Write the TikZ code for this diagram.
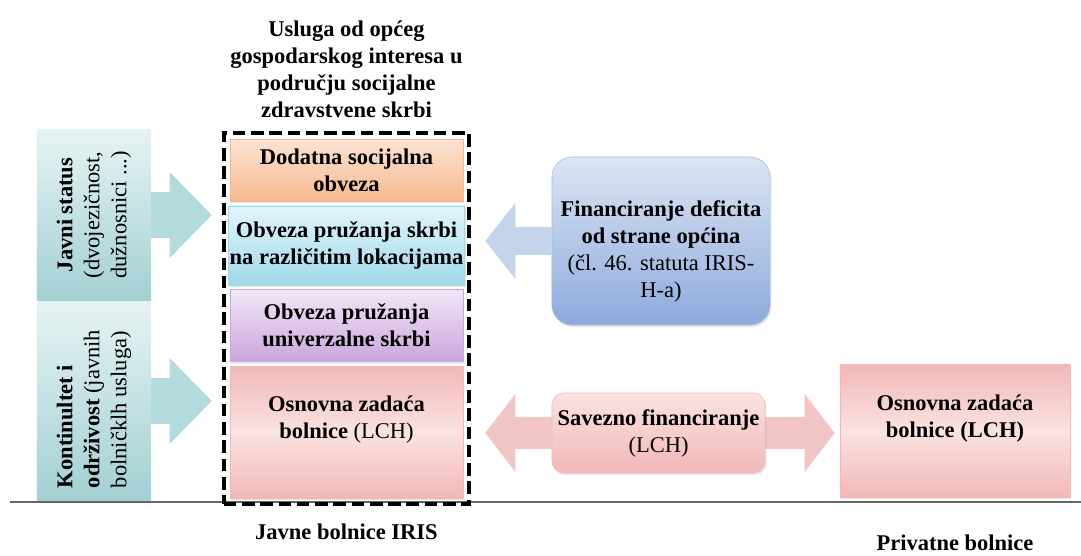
\documentclass[tikz,border=0pt]{standalone}
\usepackage{fontspec}
\setmainfont{Liberation Serif}
\usepackage{tikz}
\usetikzlibrary{positioning,arrows.meta,fit,shadows}
\definecolor{h_teal}{HTML}{A3D0D3}
\definecolor{h_tealtop}{HTML}{E6F3F4}
\definecolor{h_tealarrow}{HTML}{B3DADC}
\definecolor{h_orange}{HTML}{F5B990}
\definecolor{h_orangetop}{HTML}{FCE3D4}
\definecolor{h_cyan}{HTML}{A0D9EA}
\definecolor{h_cyantop}{HTML}{E2F5FA}
\definecolor{h_purple}{HTML}{CBA5DD}
\definecolor{h_purpletop}{HTML}{F1E8F7}
\definecolor{h_red}{HTML}{F2B8B8}
\definecolor{h_redmid}{HTML}{FBE2E2}
\definecolor{h_blue}{HTML}{8EAADB}
\definecolor{h_bluetop}{HTML}{DCE5F4}
\definecolor{h_bluearrow}{HTML}{C6D5EE}
\definecolor{h_pinkarrow}{HTML}{F2C6C6}

\begin{document}
\begin{tikzpicture}[
    x=0.025cm, y=-0.025cm,
    every node/.style={font=\fontsize{16}{19.2}\selectfont, align=center, inner sep=1pt},
    box text/.style={font=\fontsize{16}{19.2}\selectfont\bfseries},
    box/.style={rectangle, inner sep=1pt, box text,
        drop shadow={opacity=0.2, shadow xshift=1pt, shadow yshift=-1.5pt}},
    duty/.style={box, minimum width=5.825cm},
    status/.style={rectangle, minimum width=2.85cm, top color=h_tealtop, bottom color=h_teal},
    frame/.style={draw=black, line width=2.8pt, dash pattern=on 9pt off 4pt, inner sep=0.15cm},
    teal arrow/.style={draw=h_tealarrow, line width=1.125cm, shorten >=0.25cm,
        -{Triangle[length=1.05cm, width=2.15cm, line width=0pt]}},
    blue arrow/.style={draw=h_bluearrow, line width=0.7cm, shorten >=0.35cm,
        -{Triangle[length=0.75cm, width=1.9cm, line width=0pt]}},
    pink arrow/.style={draw=h_pinkarrow, line width=0.8cm, shorten <=0.35cm, shorten >=0.125cm,
        {Triangle[length=0.75cm, width=1.95cm, line width=0pt]}-{Triangle[length=0.75cm, width=1.95cm, line width=0pt]}},
    ground/.style={draw=black!60, line width=0.05cm}
]
    \useasboundingbox (0,0) rectangle (1081,556);
    \coordinate (g1) at (10,502);
    \coordinate (g2) at (1081,502);
    \draw[ground] (g1) -- (g2);

    \node[duty, anchor=north, minimum height=1.55cm, draw=h_orange, top color=h_orangetop, bottom color=h_orange]
        (dodatna) at (346.5,139) {Dodatna socijalna\\obveza};
    \node[duty, below=0.1cm of dodatna, minimum height=1.975cm, draw=h_cyan, top color=h_cyantop, bottom color=h_cyan]
        (lokacije) {Obveza pružanja skrbi\\na različitim lokacijama};
    \node[duty, below=0.1cm of lokacije, minimum height=1.8cm, draw=h_purple, top color=h_purpletop, bottom color=h_purple]
        (univerzalna) {Obveza pružanja\\univerzalne skrbi};
    \node[duty, below=0.1cm of univerzalna, minimum height=3.3cm, draw=h_red, top color=h_red, bottom color=h_red, middle color=h_redmid,
        label={[box text, yshift=0.32cm]center:{Osnovna zadaća\\bolnice {\mdseries (LCH)}}}]
        (osnovna) {};
    \node[frame, fit=(dodatna)(osnovna)] (frame) {};
    \node[box text, above=0.3cm of frame] (usluga)
        {Usluga od općeg\\gospodarskog interesa u\\području socijalne\\zdravstvene skrbi};
    \node[box text, below=0.4cm of frame] (javne) {Javne bolnice IRIS};

    \node[status, minimum height=4.25cm] (javni) at (94,215)
        [label={[rotate=90]center:{\textbf{Javni status}\\(dvojezičnost,\\dužnosnici ...)}}] {};
    \node[status, minimum height=4.95cm] (kontinuitet) at (94,401)
        [label={[yshift=-0.2cm, rotate=90, align=left]center:{\textbf{Kontinultet i}\\\textbf{održivost} (javnih\\bolničklh usluga)}}] {};
    \draw[teal arrow] (javni.east) -- (javni.east -| frame.west);
    \draw[teal arrow] (kontinuitet.east) -- (kontinuitet.east -| frame.west);

    \node[box, rounded corners=0.5cm, minimum width=5.45cm, minimum height=4.2cm, draw=h_blue!80, top color=h_bluetop, bottom color=h_blue,
        label={[box text, yshift=-0.25cm]center:{Financiranje deficita\\od strane općina\\{\mdseries (čl. 46. statuta IRIS-}\\{\mdseries H-a)}}}]
        (deficit) at (661,241) {};
    \draw[blue arrow] (deficit.west) -- (deficit.west -| frame.east);

    \node[box, minimum width=5.75cm, minimum height=3.3cm, draw=h_red, top color=h_red, bottom color=h_red, middle color=h_redmid,
        label={[box text, yshift=0.3cm]center:{Osnovna zadaća\\bolnice (LCH)}}]
        (privatna) at (955,431) {};
    \node[box text, below=0.9cm of privatna] (privatne) {Privatne bolnice};

    \coordinate (savez) at (658.5,433);
    \draw[pink arrow] (savez -| frame.east) -- (savez -| privatna.west);
    \node[box, rounded corners=0.3cm, minimum width=5.325cm, minimum height=2cm, draw=h_red, top color=h_redmid, bottom color=h_red]
        (savezno) at (savez) {Savezno financiranje\\{\mdseries (LCH)}};
\end{tikzpicture}
\end{document}
